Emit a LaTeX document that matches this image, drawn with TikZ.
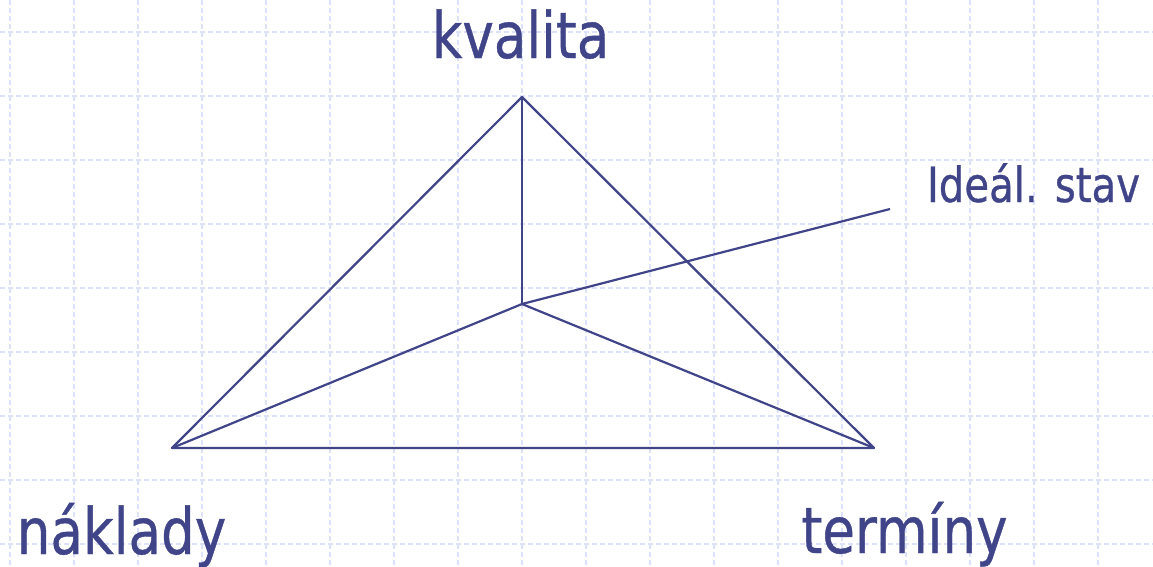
\documentclass[tikz,border=0pt]{standalone}
\usepackage{fontspec}
\newfontfamily\tah[FakeStretch=0.83,FakeBold=0.6]{DejaVu Sans}
\definecolor{ink}{HTML}{404489}
\definecolor{gridc}{HTML}{DCE2FA}
\begin{document}
\begin{tikzpicture}[x=1pt,y=-1pt,
  gridline/.style={gridc,line width=1.5pt,dash pattern=on 5pt off 3pt},
  edge/.style={ink,line width=2.2pt,line join=round},
  lbl/.style={inner sep=0pt,anchor=base,text=ink,font=\tah}]
\useasboundingbox (0,0) rectangle (1153,566);
\fill[white] (0,0) rectangle (1153,566);
\foreach \x in {10,74,...,1098} \draw[gridline] (\x,0) -- (\x,566);
\foreach \y in {32,96,...,544} \draw[gridline] (0,\y) -- (1153,\y);
\coordinate (A) at (522,97);
\coordinate (B) at (172,448);
\coordinate (C) at (874,448);
\coordinate (O) at (522,304);
\coordinate (I) at (890,209);
\draw[edge] (A) -- (B) -- (C) -- cycle;
\draw[edge] (O) -- (A);
\draw[edge] (O) -- (B);
\draw[edge] (O) -- (C);
\draw[edge] (O) -- (I);
\node[lbl,font=\tah\fontsize{64}{64}\selectfont] (kv) at (520.5,58) {kvalita};
\node[lbl,font=\tah\fontsize{64}{64}\selectfont] (na) at (121.5,554) {náklady};
\node[lbl,font=\tah\fontsize{64}{64}\selectfont] (te) at (904.5,553) {termíny};
\node[lbl,font=\tah\fontsize{48.5}{48.5}\selectfont] (id) at (1033.5,202) {Ideál. stav};
\end{tikzpicture}
\end{document}
